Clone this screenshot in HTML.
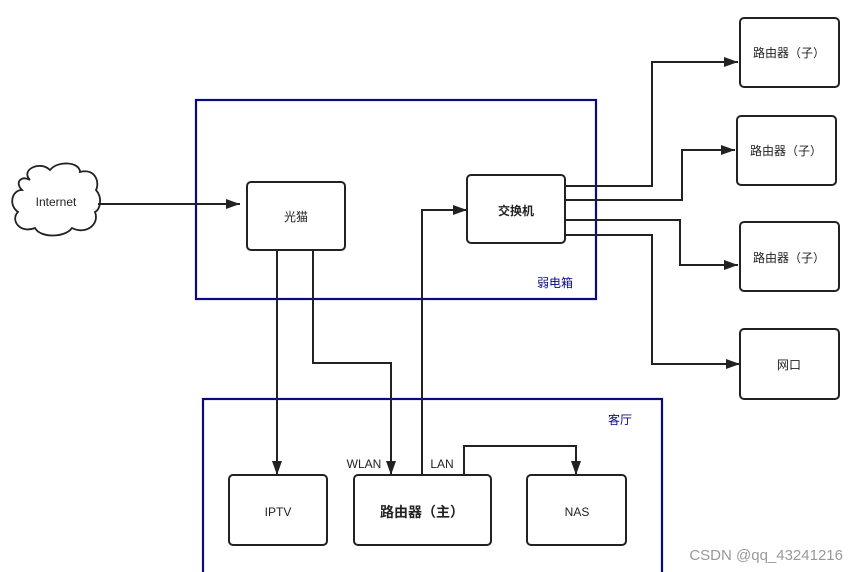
<!DOCTYPE html>
<html><head><meta charset="utf-8"><style>
html,body{margin:0;padding:0;background:#fff;}
svg{display:block;font-family:"Liberation Sans","Noto Sans CJK SC",sans-serif;}
</style></head><body>
<svg width="857" height="572" viewBox="0 0 857 572" xmlns="http://www.w3.org/2000/svg">
<defs>
<marker id="a" markerWidth="14" markerHeight="10" refX="14" refY="5" orient="auto" markerUnits="userSpaceOnUse">
<path d="M0,0 L14,5 L0,10 Z" fill="#222"/></marker>
</defs>
<rect x="196" y="100" width="400" height="199" fill="none" stroke="#0a0a80" stroke-width="2.2"/>
<rect x="203" y="399" width="459" height="180" fill="none" stroke="#0a0a80" stroke-width="2.2"/>
<text x="555" y="287" font-size="12" fill="#0a0a80" text-anchor="middle">弱电箱</text>
<text x="620" y="424" font-size="12" fill="#0a0a80" text-anchor="middle">客厅</text>
<g fill="none" stroke="#222" stroke-width="2">
<path d="M30,180 C20,170 40,160 50,170 C58,160 80,162 80,172 C95,168 100,182 96,190 C103,198 100,210 95,212 C100,225 85,235 72,228 C65,238 40,238 35,228 C20,234 10,220 18,212 C8,205 12,190 22,190 C14,182 22,175 30,180 Z" stroke-width="1.8"/>
<line x1="98" y1="204" x2="240" y2="204" marker-end="url(#a)"/>
<path d="M277,250 V475" marker-end="url(#a)"/>
<path d="M313,250 V363 H391 V475" marker-end="url(#a)"/>
<path d="M422,475 V210 H467" marker-end="url(#a)"/>
<path d="M464,475 V446 H576 V475" marker-end="url(#a)"/>
<path d="M565,186 H652 V62 H738" marker-end="url(#a)"/>
<path d="M565,200 H682 V150 H735" marker-end="url(#a)"/>
<path d="M565,220 H680 V265 H738" marker-end="url(#a)"/>
<path d="M565,235 H652 V364 H740" marker-end="url(#a)"/>
</g>
<g fill="#fff" stroke="#222" stroke-width="2">
<rect x="247" y="182" width="98" height="68" rx="4"/>
<rect x="467" y="175" width="98" height="68" rx="4"/>
<rect x="740" y="18" width="99" height="69" rx="4"/>
<rect x="737" y="116" width="99" height="69" rx="4"/>
<rect x="740" y="222" width="99" height="69" rx="4"/>
<rect x="740" y="329" width="99" height="70" rx="4"/>
<rect x="229" y="475" width="98" height="70" rx="4"/>
<rect x="354" y="475" width="137" height="70" rx="4"/>
<rect x="527" y="475" width="99" height="70" rx="4"/>
</g>
<g font-size="12" fill="#222" text-anchor="middle">
<text x="56" y="206">Internet</text>
<text x="296" y="221">光猫</text>
<text x="516" y="215" font-weight="bold">交换机</text>
<text x="789" y="57">路由器（子）</text>
<text x="786" y="155">路由器（子）</text>
<text x="789" y="262">路由器（子）</text>
<text x="789" y="369">网口</text>
<text x="278" y="516">IPTV</text>
<text x="422" y="517" font-size="14" font-weight="bold">路由器（主）</text>
<text x="577" y="516">NAS</text>
<text x="364" y="468">WLAN</text>
<text x="442" y="468">LAN</text>
</g>
<text x="843" y="560" font-size="15" fill="#999" text-anchor="end">CSDN @qq_43241216</text>
</svg>
</body></html>
